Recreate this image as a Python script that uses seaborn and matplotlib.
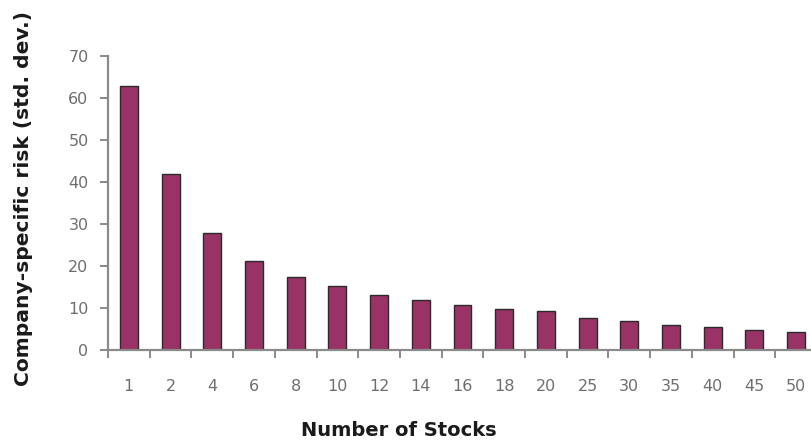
import matplotlib
matplotlib.use("Agg")
import matplotlib.pyplot as plt
import seaborn as sns
import pandas as pd
from matplotlib.ticker import FixedLocator

# Portfolio size (number of stocks) and the remaining company-specific risk
stocks = ["1", "2", "4", "6", "8", "10", "12", "14", "16", "18", "20",
          "25", "30", "35", "40", "45", "50"]
risk = [62.9, 41.9, 27.8, 21.3, 17.5, 15.2, 13.0, 11.8, 10.6, 9.8, 9.3,
        7.7, 6.9, 6.0, 5.4, 4.8, 4.2]
y_ticks = [0, 10, 20, 30, 40, 50, 60, 70]

df = pd.DataFrame({"Number of Stocks": stocks, "risk": risk})

sns.set_style("white")
plt.rcParams["font.family"] = ["DejaVu Sans"]

fig = plt.figure(figsize=(8.11, 4.4), dpi=100)
ax = fig.add_axes([108 / 811, 1 - 350 / 440, 709 / 811, 294 / 440])

sns.barplot(data=df, x="Number of Stocks", y="risk", order=stocks,
            color="#993366", saturation=1, width=0.43,
            edgecolor="#2a2a2a", linewidth=1.0, ax=ax)

axis_grey = "#8a8a8a"
label_grey = "#6e6e6e"

ax.set_xlim(-0.5, len(stocks) - 0.5)
ax.set_ylim(0, 70)
ax.set_yticks(y_ticks)

for side in ("top", "right"):
    ax.spines[side].set_visible(False)
for side in ("left", "bottom"):
    ax.spines[side].set_color(axis_grey)
    ax.spines[side].set_linewidth(1.6)

# category separators on the x axis
ax.xaxis.set_minor_locator(FixedLocator([i - 0.5 for i in range(len(stocks) + 1)]))
ax.tick_params(axis="x", which="major", length=0, pad=21,
               labelsize=11.5, labelcolor=label_grey)
ax.tick_params(axis="x", which="minor", direction="out", length=6,
               width=1.4, color=axis_grey, bottom=True)
ax.tick_params(axis="y", which="major", direction="out", length=6,
               width=1.4, color=axis_grey, left=True, pad=8,
               labelsize=11.5, labelcolor=label_grey)

ax.set_xlabel("Number of Stocks", fontsize=14, fontweight="bold", color="#1a1a1a")
ax.set_ylabel("Company-specific risk (std. dev.)", fontsize=14.6,
              fontweight="bold", color="#1a1a1a")
ax.xaxis.label.set_va("center")
ax.yaxis.label.set_va("center")
ax.xaxis.set_label_coords((399 - 108) / 709, (350 - 430) / 294)
ax.yaxis.set_label_coords((24 - 108) / 709, (350 - 198) / 294)

fig.savefig("out.png", dpi=100)
